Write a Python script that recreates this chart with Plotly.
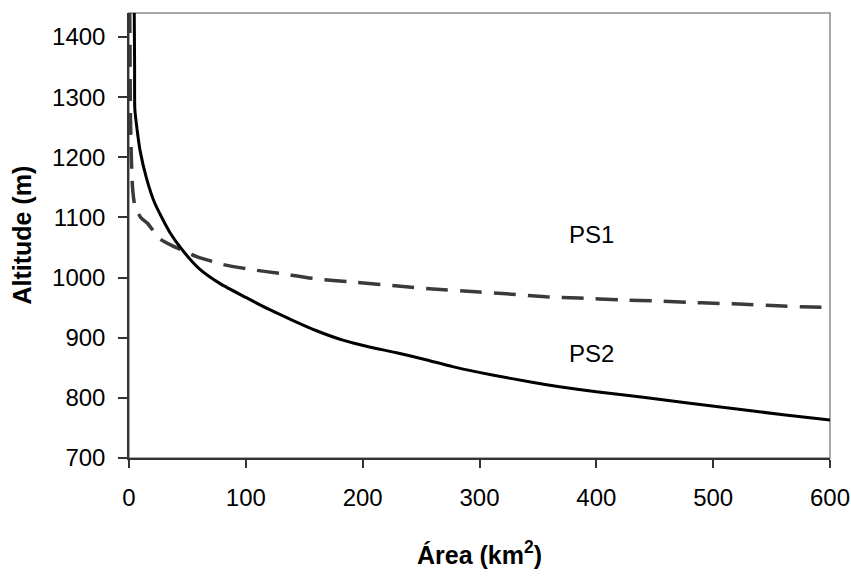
import plotly.graph_objects as go

# PS1 (dashed) hypsometric curve
ps1_area = [0.3, 0.8, 1.2, 2.0, 3.0, 5.0, 10, 16, 26, 36, 46, 58, 80, 106, 129, 160, 195, 230, 260, 300, 323, 357, 385, 420, 454, 490, 522, 555, 585, 600]
ps1_alt = [1500, 1400, 1270, 1200, 1150, 1120, 1100, 1090, 1065, 1054, 1045, 1035, 1022, 1013, 1007, 998, 992, 986, 981, 976, 973, 968, 966, 963, 961, 958, 956, 953, 951, 950]

# PS2 (solid) hypsometric curve
ps2_area = [4.3, 4.8, 5.0, 7, 9.4, 15, 22, 35, 46, 60, 78, 100, 120, 140, 160, 183, 205, 229, 255, 277, 311, 345, 370, 400, 440, 480, 522, 560, 600]
ps2_alt = [1500, 1350, 1280, 1245, 1212, 1165, 1124, 1075, 1045, 1015, 990, 967, 947, 929, 912, 896, 885, 875, 863, 852, 838, 826, 818, 810, 801, 791, 781, 772, 763]

x_ticks = [0, 100, 200, 300, 400, 500, 600]
y_ticks = [700, 800, 900, 1000, 1100, 1200, 1300, 1400]

labels = ["PS1", "PS2"]
label_x = [396, 396]
label_y = [1072, 874]

FONT = "Liberation Sans, Arial, sans-serif"

fig = go.Figure()
fig.add_trace(go.Scatter(x=ps1_area, y=ps1_alt, mode="lines", name="PS1",
                         line=dict(color="#3a3a3a", width=3.5, dash="22px,12px",
                                   shape="spline", smoothing=0.6)))
fig.add_trace(go.Scatter(x=ps2_area, y=ps2_alt, mode="lines", name="PS2",
                         line=dict(color="#000000", width=3, shape="spline", smoothing=0.6)))

for t, xv, yv in zip(labels, label_x, label_y):
    fig.add_annotation(x=xv, y=yv, text=t, showarrow=False, xref="x", yref="y",
                       font=dict(family=FONT, size=24, color="#000"))

fig.add_annotation(x=-0.154, y=0.5, xref="paper", yref="paper", text="<b>Altitude (m)</b>",
                   textangle=-90, showarrow=False, xanchor="center", yanchor="middle",
                   font=dict(family=FONT, size=25, color="#000"))
fig.add_annotation(x=0.5, y=-0.2135, xref="paper", yref="paper", text="<b>Área (km<sup>2</sup>)</b>",
                   showarrow=False, xanchor="center", yanchor="middle",
                   font=dict(family=FONT, size=25, color="#000"))

fig.add_shape(type="rect", xref="paper", yref="paper", x0=0, y0=0, x1=1, y1=1,
              line=dict(color="#8c8c8c", width=1.5), layer="below")

fig.update_layout(
    width=851, height=583,
    margin=dict(l=129, r=21, t=13, b=125),
    paper_bgcolor="white", plot_bgcolor="white",
    showlegend=False,
    font=dict(family=FONT, size=24, color="#000"),
)
fig.update_xaxes(range=[0, 600], tickvals=x_ticks, ticks="outside", ticklen=8, tickwidth=1.5,
                 tickcolor="#333", showline=True, linecolor="#333", linewidth=1.5,
                 showgrid=False, zeroline=False, ticklabelstandoff=9, automargin=False,
                 tickfont=dict(family=FONT, size=24, color="#000"))
fig.update_yaxes(range=[700, 1440], tickvals=y_ticks, ticks="outside", ticklen=9, tickwidth=1.5,
                 tickcolor="#333", showline=True, linecolor="#333", linewidth=1.5,
                 showgrid=False, zeroline=False, ticklabelstandoff=8, automargin=False,
                 tickfont=dict(family=FONT, size=24, color="#000"))

fig.write_html("out.html", config={"displayModeBar": False},
               post_script="document.body.style.margin='0';document.body.style.overflow='hidden';")
